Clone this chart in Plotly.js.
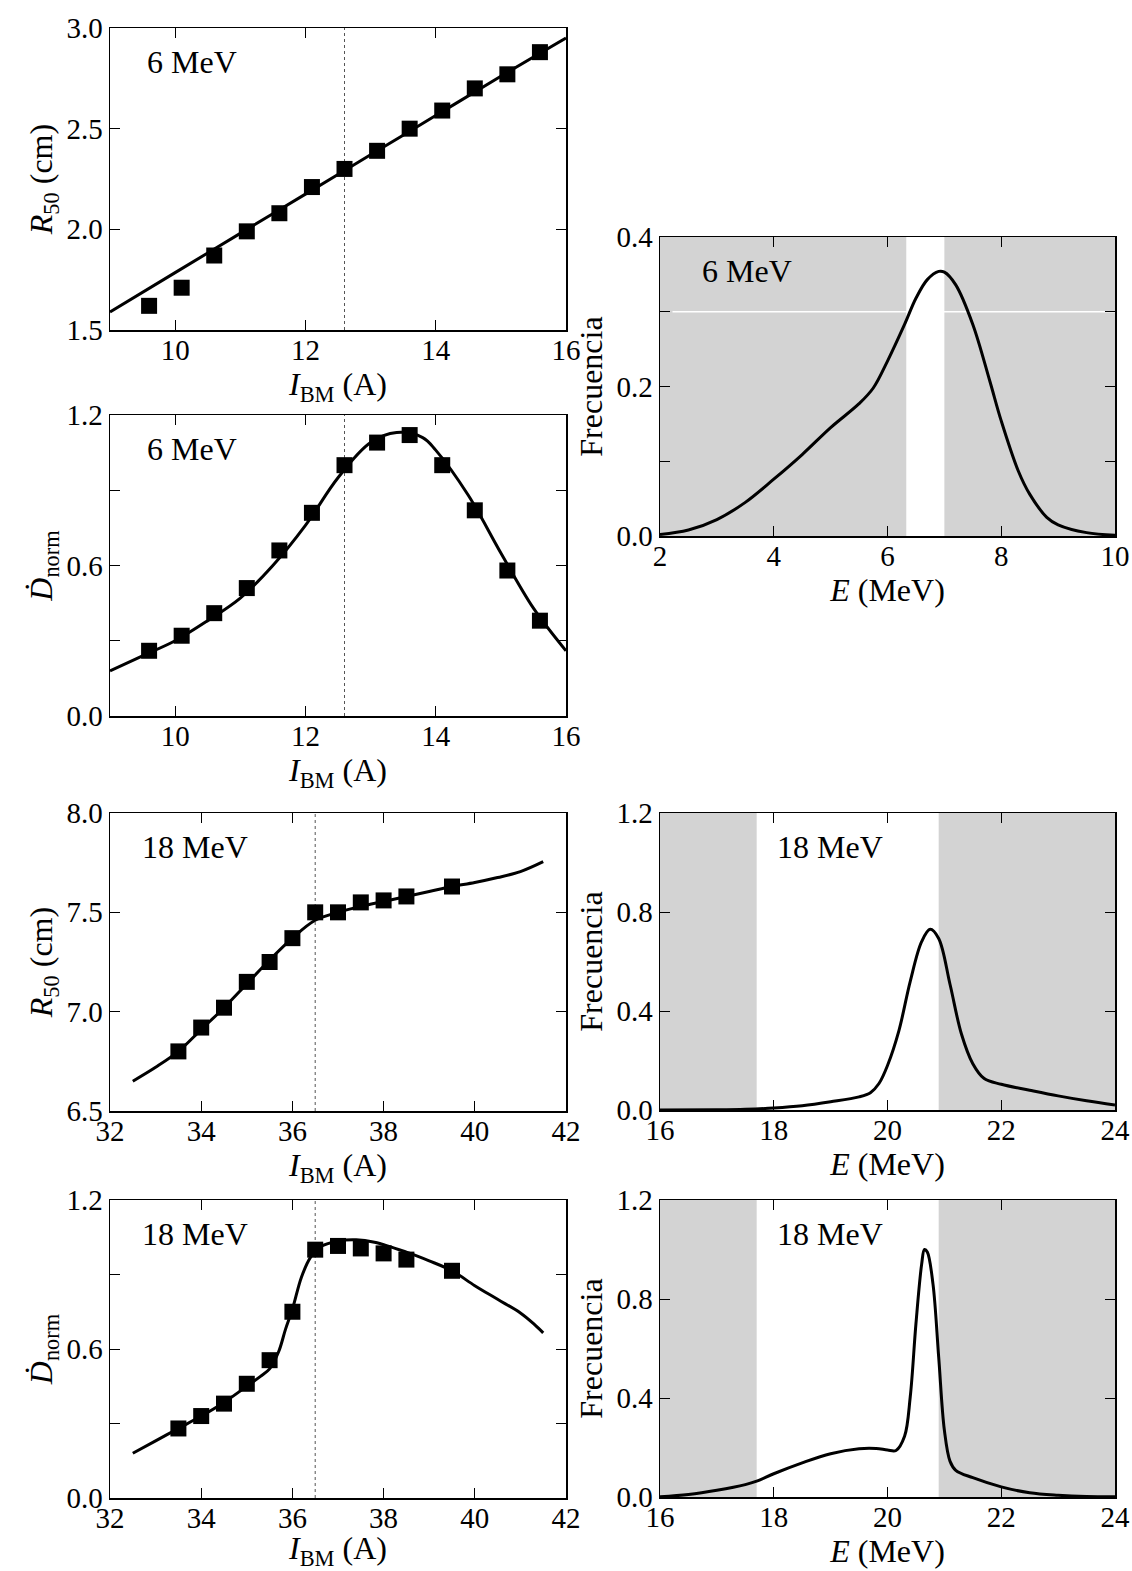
<!DOCTYPE html>
<html>
<head>
<meta charset="utf-8">
<script src="https://cdn.plot.ly/plotly-3.0.1.min.js"></script>
<style>html,body{margin:0;padding:0;background:#fff;}#chart{width:1132px;height:1571px;}</style>
</head>
<body>
<div id="chart"></div>
<script>
// ---------- DATA ----------
// Panel A: R50 vs I_BM, 6 MeV
const a_pts_x = [9.6, 10.1, 10.6, 11.1, 11.6, 12.1, 12.6, 13.1, 13.6, 14.1, 14.6, 15.1, 15.6];
const a_pts_y = [1.62, 1.71, 1.87, 1.99, 2.08, 2.21, 2.30, 2.39, 2.50, 2.59, 2.70, 2.77, 2.88];
const a_fit_x = [9, 10, 11, 12, 13, 14, 15, 16];
const a_fit_y = [1.59, 1.785, 1.98, 2.175, 2.37, 2.565, 2.76, 2.95];

// Panel B: Dnorm vs I_BM, 6 MeV
const b_pts_x = [9.6, 10.1, 10.6, 11.1, 11.6, 12.1, 12.6, 13.1, 13.6, 14.1, 14.6, 15.1, 15.6];
const b_pts_y = [0.26, 0.32, 0.41, 0.51, 0.66, 0.81, 1.00, 1.09, 1.12, 1.00, 0.82, 0.58, 0.38];
const b_fit_x = [9, 9.5, 10, 10.5, 11, 11.5, 12, 12.5, 13, 13.4, 13.8, 14, 14.5, 15, 15.5, 16];
const b_fit_y = [0.18, 0.24, 0.30, 0.38, 0.47, 0.60, 0.76, 0.95, 1.09, 1.13, 1.11, 1.06, 0.88, 0.65, 0.43, 0.26];

// Panel C: R50 vs I_BM, 18 MeV
const c_pts_x = [33.5, 34, 34.5, 35, 35.5, 36, 36.5, 37, 37.5, 38, 38.5, 39.5];
const c_pts_y = [6.80, 6.92, 7.02, 7.15, 7.25, 7.37, 7.50, 7.50, 7.55, 7.56, 7.58, 7.63];
const c_fit_x = [32.5, 33, 33.5, 34, 34.5, 35, 35.5, 36, 36.5, 37, 37.5, 38, 38.5, 39, 39.5, 40, 40.5, 41, 41.5];
const c_fit_y = [6.65, 6.72, 6.80, 6.91, 7.02, 7.14, 7.26, 7.37, 7.46, 7.50, 7.53, 7.555, 7.58, 7.605, 7.63, 7.65, 7.675, 7.705, 7.755];

// Panel D: Dnorm vs I_BM, 18 MeV
const d_pts_x = [33.5, 34, 34.5, 35, 35.5, 36, 36.5, 37, 37.5, 38, 38.5, 39.5];
const d_pts_y = [0.28, 0.33, 0.38, 0.46, 0.555, 0.75, 1.00, 1.015, 1.005, 0.985, 0.96, 0.915];
const d_fit_x = [32.5, 33, 33.5, 34, 34.5, 35, 35.3, 35.5, 35.7, 35.85, 36, 36.2, 36.4, 36.6, 37, 37.4, 37.8, 38.5, 39, 39.5, 40, 40.5, 41, 41.3, 41.5];
const d_fit_y = [0.18, 0.23, 0.28, 0.33, 0.385, 0.45, 0.49, 0.52, 0.59, 0.68, 0.76, 0.89, 0.97, 1.01, 1.035, 1.04, 1.03, 0.99, 0.955, 0.915, 0.855, 0.80, 0.745, 0.70, 0.665];

// Panel E: energy spectrum, 6 MeV
const e_x = [2, 2.5, 3, 3.5, 4, 4.5, 5, 5.5, 5.75, 6, 6.3, 6.5, 6.7, 6.9, 7.0, 7.2, 7.5, 7.8, 8, 8.3, 8.5, 8.8, 9, 9.5, 10];
const e_y = [0.002, 0.008, 0.022, 0.045, 0.076, 0.109, 0.145, 0.177, 0.198, 0.234, 0.283, 0.318, 0.343, 0.354, 0.353, 0.336, 0.283, 0.207, 0.154, 0.087, 0.056, 0.025, 0.015, 0.0045, 0.001];
const e_band = [[2, 6.33], [7.0, 10]];

// Panel F: energy spectrum, 18 MeV (upper)
const f_x = [16, 17, 17.5, 18, 18.5, 19, 19.5, 19.7, 19.85, 20, 20.2, 20.4, 20.6, 20.75, 20.9, 21.1, 21.3, 21.5, 21.7, 22, 22.5, 23, 23.5, 24];
const f_y = [0.0, 0.001, 0.003, 0.008, 0.017, 0.033, 0.053, 0.07, 0.107, 0.18, 0.32, 0.52, 0.68, 0.73, 0.693, 0.507, 0.307, 0.187, 0.127, 0.104, 0.08, 0.057, 0.037, 0.02];
const f_band = [[16, 17.7], [20.9, 24]];

// Panel G: energy spectrum, 18 MeV (lower)
const g_x = [16, 16.5, 17, 17.5, 17.7, 18, 18.5, 19, 19.5, 19.8, 20.0, 20.15, 20.3, 20.4, 20.5, 20.6, 20.65, 20.7, 20.8, 20.9, 21.0, 21.1, 21.2, 21.5, 22, 22.5, 23, 23.5, 24];
const g_y = [0.001, 0.01, 0.027, 0.05, 0.064, 0.094, 0.138, 0.175, 0.195, 0.196, 0.19, 0.188, 0.245, 0.405, 0.70, 0.94, 1.0, 0.99, 0.86, 0.565, 0.27, 0.144, 0.108, 0.078, 0.041, 0.017, 0.007, 0.002, 0.001];
const g_band = [[16, 17.7], [20.9, 24]];

// Reference currents (dotted lines)
const ref_6 = 12.6;
const ref_18 = 36.5;

// Labels
const lbl_6 = "6 MeV";
const lbl_18 = "18 MeV";
const ticks_x6 = [10, 12, 14, 16];
const ticks_x18 = [32, 34, 36, 38, 40, 42];
const ticks_r50_6 = [1.5, 2.0, 2.5, 3.0];
const ticktext_r50_6 = ["1.5", "2.0", "2.5", "3.0"];
const ticks_r50_18 = [6.5, 7.0, 7.5, 8.0];
const ticktext_r50_18 = ["6.5", "7.0", "7.5", "8.0"];
const ticks_dn = [0, 0.3, 0.6, 0.9, 1.2];
const ticktext_dn = ["0.0", "", "0.6", "", "1.2"];
const ticks_e6x = [2, 4, 6, 8, 10];
const ticks_e6y = [0, 0.1, 0.2, 0.3, 0.4];
const ticktext_e6y = ["0.0", "", "0.2", "", "0.4"];
const ticks_e18x = [16, 18, 20, 22, 24];
const ticks_e18y = [0, 0.4, 0.8, 1.2];
const ticktext_e18y = ["0.0", "0.4", "0.8", "1.2"];

// ---------- STYLE ----------
const FONT = "Liberation Serif";
const TICKSIZE = 29;
const TITLESIZE = 32;
const W = 1132, H = 1571;
const xL = [110 / W, 566 / W];
const xR = [660 / W, 1115 / W];
function yd(top, bot) { return [1 - bot / H, 1 - top / H]; }

const T_IBM = "<i>I</i><sub>BM</sub> (A)";
const T_R50 = "<i>R</i><sub>50</sub> (cm)";
const T_DN = "<i>\u1E0A</i><sub>norm</sub>";
const T_E = "<i>E</i> (MeV)";
const T_F = "Frecuencia";

function axis(domain, anchor, range, tickvals, ticktext, title, standoff, isX) {
  const a = {
    domain: domain, anchor: anchor, range: range,
    tickmode: "array", tickvals: tickvals, ticktext: ticktext || tickvals.map(String),
    ticks: "inside", ticklen: 10, tickwidth: 1, tickcolor: "#000",
    showline: true, linecolor: "#000", linewidth: 1.5, mirror: "ticks",
    showgrid: false, zeroline: false,
    tickfont: { family: FONT, size: TICKSIZE, color: "#000" },
    title: { text: title, font: { family: FONT, size: TITLESIZE, color: "#000" }, standoff: standoff },
    fixedrange: true
  };
  if (isX) a.ticklabelstandoff = -6;
  return a;
}

const fitLine = { color: "#000", width: 3, shape: "spline", smoothing: 1 };
const sq = { symbol: "square", size: 16, color: "#000" };

const traces = [
  { x: a_fit_x, y: a_fit_y, mode: "lines", line: fitLine, xaxis: "x", yaxis: "y" },
  { x: a_pts_x, y: a_pts_y, mode: "markers", marker: sq, xaxis: "x", yaxis: "y" },
  { x: b_fit_x, y: b_fit_y, mode: "lines", line: fitLine, xaxis: "x2", yaxis: "y2" },
  { x: b_pts_x, y: b_pts_y, mode: "markers", marker: sq, xaxis: "x2", yaxis: "y2" },
  { x: c_fit_x, y: c_fit_y, mode: "lines", line: fitLine, xaxis: "x3", yaxis: "y3" },
  { x: c_pts_x, y: c_pts_y, mode: "markers", marker: sq, xaxis: "x3", yaxis: "y3" },
  { x: d_fit_x, y: d_fit_y, mode: "lines", line: fitLine, xaxis: "x4", yaxis: "y4" },
  { x: d_pts_x, y: d_pts_y, mode: "markers", marker: sq, xaxis: "x4", yaxis: "y4" },
  { x: e_x, y: e_y, mode: "lines", line: fitLine, xaxis: "x5", yaxis: "y5" },
  { x: f_x, y: f_y, mode: "lines", line: fitLine, xaxis: "x6", yaxis: "y6" },
  { x: g_x, y: g_y, mode: "lines", line: fitLine, xaxis: "x7", yaxis: "y7" }
];

const shapes = [];
function vdot(xv, xa, ya) {
  shapes.push({ type: "line", xref: xa, yref: ya + " domain", x0: xv, x1: xv, y0: 0, y1: 1,
    line: { color: "#555", width: 1, dash: "dot" }, layer: "below" });
}
vdot(ref_6, "x", "y"); vdot(ref_6, "x2", "y2");
vdot(ref_18, "x3", "y3"); vdot(ref_18, "x4", "y4");
function bands(list, xa, ya) {
  list.forEach(b => shapes.push({ type: "rect", xref: xa, yref: ya + " domain", x0: b[0], x1: b[1], y0: 0, y1: 1,
    fillcolor: "#d3d3d3", line: { width: 0 }, layer: "below" }));
}
bands(e_band, "x5", "y5");
bands(f_band, "x6", "y6");
bands(g_band, "x7", "y7");
// thin white line across the shaded area of the 6 MeV spectrum
shapes.push({ type: "line", xref: "x5", yref: "y5", x0: 2.22, x1: 10, y0: 0.3, y1: 0.3,
  line: { color: "#fff", width: 1.5 }, layer: "below" });

function note(text, xa, ya, xf) {
  return { text: text, xref: xa + " domain", yref: ya + " domain", x: xf, y: 0.887,
    xanchor: "left", yanchor: "middle", showarrow: false,
    font: { family: FONT, size: TITLESIZE, color: "#000" } };
}

const layout = {
  width: W, height: H,
  margin: { l: 0, r: 0, t: 0, b: 0 },
  paper_bgcolor: "#fff", plot_bgcolor: "rgba(0,0,0,0)",
  showlegend: false,
  font: { family: FONT, color: "#000" },
  xaxis: axis(xL, "y", [9, 16], ticks_x6, null, T_IBM, 0, true),
  yaxis: axis(yd(28, 330), "x", [1.5, 3.0], ticks_r50_6, ticktext_r50_6, T_R50, 4),
  xaxis2: axis(xL, "y2", [9, 16], ticks_x6, null, T_IBM, 0, true),
  yaxis2: axis(yd(415, 716), "x2", [0, 1.2], ticks_dn, ticktext_dn, T_DN, 4),
  xaxis3: axis(xL, "y3", [32, 42], ticks_x18, null, T_IBM, 0, true),
  yaxis3: axis(yd(813, 1111), "x3", [6.5, 8.0], ticks_r50_18, ticktext_r50_18, T_R50, 4),
  xaxis4: axis(xL, "y4", [32, 42], ticks_x18, null, T_IBM, 0, true),
  yaxis4: axis(yd(1200, 1498), "x4", [0, 1.2], ticks_dn, ticktext_dn, T_DN, 4),
  xaxis5: axis(xR, "y5", [2, 10], ticks_e6x, null, T_E, 0, true),
  yaxis5: axis(yd(237, 536), "x5", [0, 0.4], ticks_e6y, ticktext_e6y, T_F, 4),
  xaxis6: axis(xR, "y6", [16, 24], ticks_e18x, null, T_E, 0, true),
  yaxis6: axis(yd(813, 1110), "x6", [0, 1.2], ticks_e18y, ticktext_e18y, T_F, 4),
  xaxis7: axis(xR, "y7", [16, 24], ticks_e18x, null, T_E, 0, true),
  yaxis7: axis(yd(1200, 1497), "x7", [0, 1.2], ticks_e18y, ticktext_e18y, T_F, 4),
  shapes: shapes,
  annotations: [
    note(lbl_6, "x", "y", 0.077),
    note(lbl_6, "x2", "y2", 0.077),
    note(lbl_18, "x3", "y3", 0.066),
    note(lbl_18, "x4", "y4", 0.066),
    note(lbl_6, "x5", "y5", 0.088),
    note(lbl_18, "x6", "y6", 0.253),
    note(lbl_18, "x7", "y7", 0.253)
  ]
};

Plotly.newPlot("chart", traces, layout, { staticPlot: true, displayModeBar: false });
</script>
</body>
</html>
